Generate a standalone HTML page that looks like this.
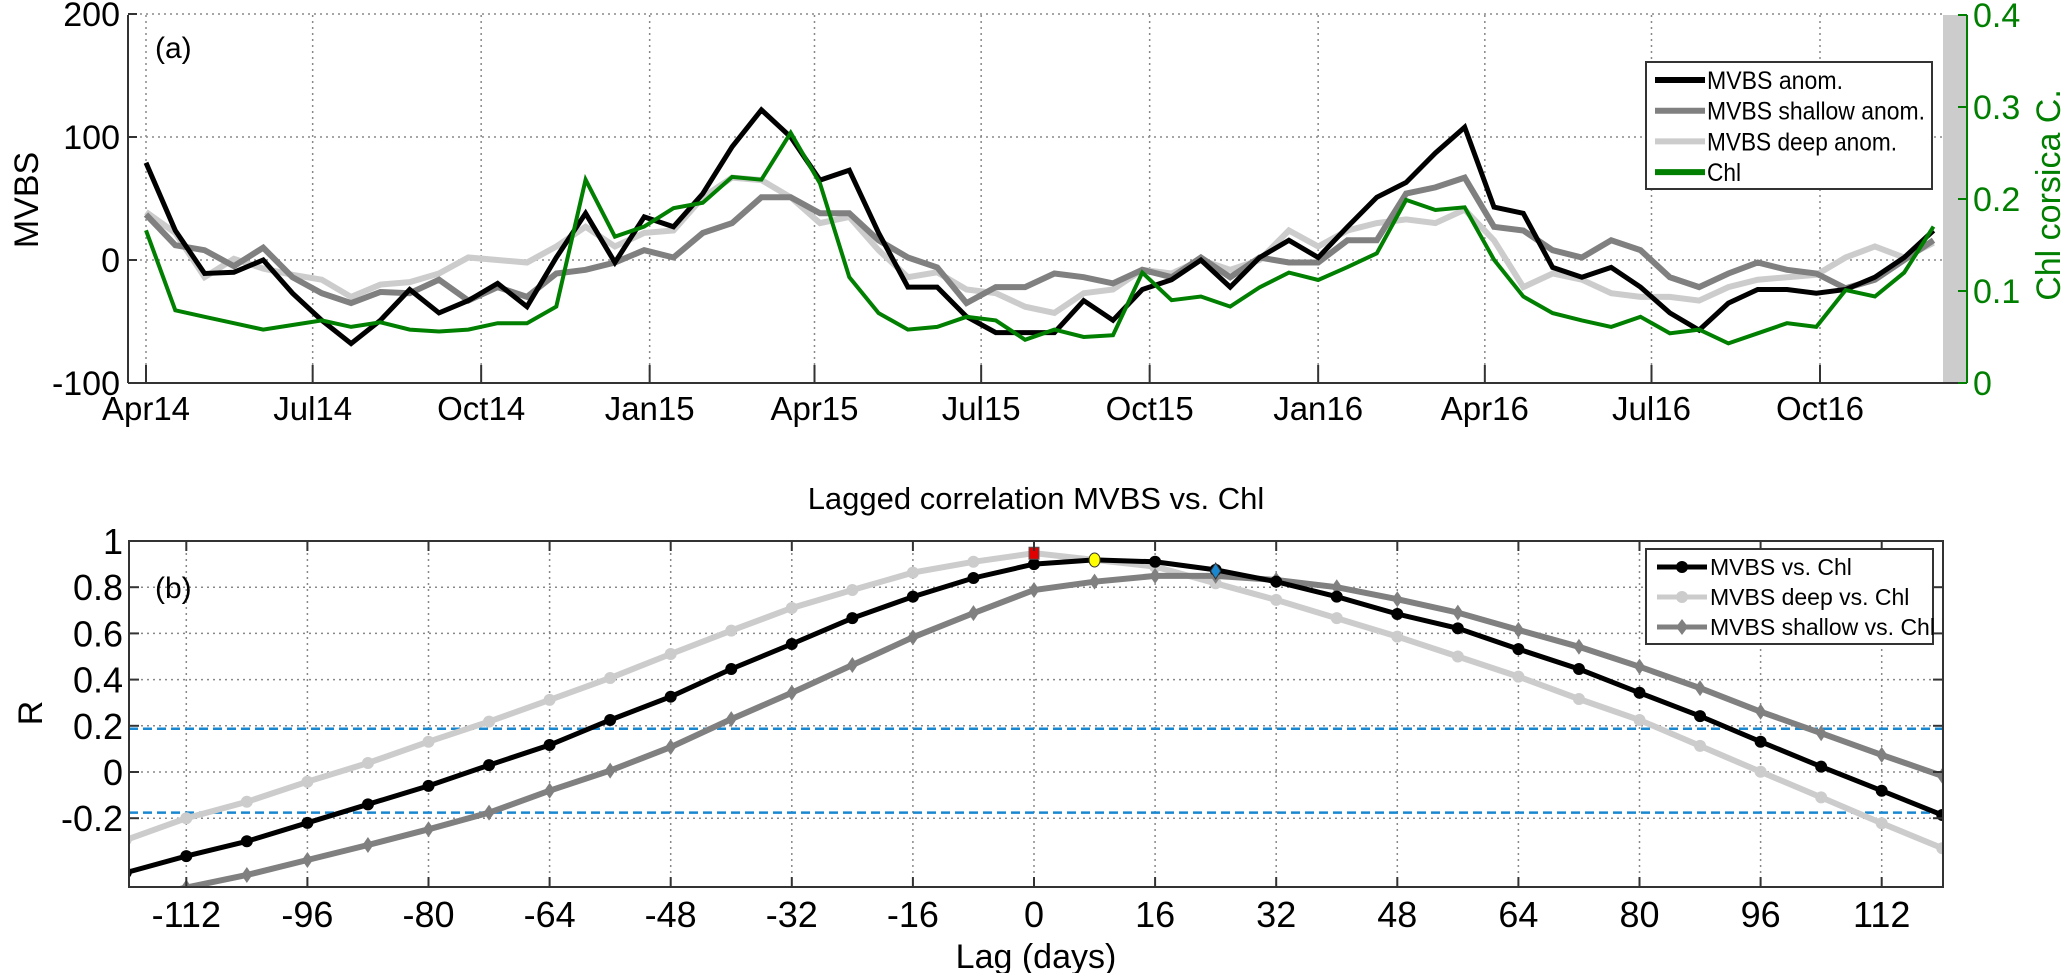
<!DOCTYPE html>
<html><head><meta charset="utf-8">
<style>
html,body{margin:0;padding:0;background:#fff;}
svg{display:block;font-family:"Liberation Sans",Arial,sans-serif;}
</style></head>
<body>
<svg id="chart" width="2067" height="973" viewBox="0 0 2067 973" xmlns="http://www.w3.org/2000/svg">
<g id="panelA"></g>
<g id="panelB"></g>
</svg>
<script>
// ---- Panel (a) data: 16-day steps from 1 Apr 2014 ----
const dayStep = 16;
const dateTickLabels = ["Apr14","Jul14","Oct14","Jan15","Apr15","Jul15","Oct15","Jan16","Apr16","Jul16","Oct16"];
const dateTickDays = [0,91,183,275,365,456,548,640,731,822,914];
const mvbsTicks = [200,100,0,-100];
const chlTicks = [0.4,0.3,0.2,0.1,0];
const mvbsAnom = [79,24,-11,-10,0,-27,-49,-68,-49,-24,-43,-33,-19,-38,2,38,-2,35,27,54,92,122,100,65,73,22,-22,-22,-46,-59,-59,-59,-33,-49,-24,-16,0,-22,2,16,2,27,51,63,87,108,43,38,-6,-14,-6,-22,-43,-57,-35,-24,-24,-27,-24,-14,2,24];
const mvbsShallow = [37,12,8,-5,10,-14,-27,-35,-26,-27,-16,-33,-22,-30,-11,-8,-2,8,2,22,30,51,51,38,38,16,2,-6,-35,-22,-22,-11,-14,-19,-8,-14,2,-14,2,-2,-2,16,16,54,59,67,27,24,8,2,16,8,-14,-22,-11,-2,-8,-11,-23,-16,0,16];
const mvbsDeep = [39,22,-14,1,-7,-12,-16,-30,-20,-18,-11,2,0,-2,11,27,11,22,24,51,67,65,51,30,35,8,-14,-10,-24,-27,-38,-43,-27,-24,-8,-11,0,-8,0,24,11,24,30,33,30,41,16,-22,-11,-16,-27,-30,-30,-33,-22,-16,-14,-12,2,11,2,14];
const chl = [0.166,0.079,0.072,0.065,0.058,0.063,0.068,0.061,0.066,0.058,0.056,0.058,0.065,0.065,0.083,0.221,0.159,0.17,0.19,0.196,0.224,0.221,0.272,0.217,0.115,0.076,0.058,0.061,0.072,0.068,0.047,0.058,0.05,0.052,0.12,0.09,0.094,0.083,0.104,0.12,0.112,0.126,0.141,0.199,0.188,0.191,0.134,0.094,0.076,0.068,0.061,0.072,0.054,0.058,0.043,0.054,0.065,0.061,0.101,0.094,0.12,0.17];

// ---- Panel (b) data: lags -120..120 step 8 ----
const lags = [-120,-112,-104,-96,-88,-80,-72,-64,-56,-48,-40,-32,-24,-16,-8,0,8,16,24,32,40,48,56,64,72,80,88,96,104,112,120];
const rAll = [-0.436,-0.364,-0.30,-0.22,-0.14,-0.06,0.03,0.117,0.225,0.326,0.446,0.554,0.666,0.759,0.84,0.9,0.918,0.91,0.875,0.824,0.759,0.684,0.622,0.532,0.446,0.343,0.242,0.131,0.023,-0.081,-0.186];
const rDeep = [-0.294,-0.2,-0.129,-0.042,0.039,0.131,0.218,0.312,0.407,0.511,0.612,0.71,0.788,0.863,0.91,0.947,0.918,0.889,0.817,0.745,0.666,0.586,0.5,0.413,0.316,0.225,0.113,0.001,-0.11,-0.222,-0.33];
const rShallow = [-0.56,-0.5,-0.446,-0.381,-0.316,-0.248,-0.176,-0.081,0.006,0.108,0.229,0.343,0.463,0.583,0.688,0.788,0.824,0.849,0.849,0.831,0.8,0.748,0.69,0.615,0.542,0.456,0.363,0.261,0.168,0.074,-0.017];
const lagTicks = [-112,-96,-80,-64,-48,-32,-16,0,16,32,48,64,80,96,112];
const rTicks = [1,0.8,0.6,0.4,0.2,0,-0.2];
const sigLevels = [0.187,-0.176];
const peakAll = {lag:0, r:0.947};
const peakDeep = {lag:8, r:0.918};
const peakShallow = {lag:24, r:0.87};

const NS = "http://www.w3.org/2000/svg";
function mk(parent, tag, attrs, text){
  const e = document.createElementNS(NS, tag);
  for (const k in attrs) e.setAttribute(k, attrs[k]);
  if (text !== undefined) e.textContent = text;
  parent.appendChild(e);
  return e;
}
const gA = document.getElementById('panelA');
const gB = document.getElementById('panelB');

// ---------- Panel A ----------
const AL=128, AR=1943, AT=15, AB=383, ARX=1967;
const xA = d => 146 + d*1.8315;
const yM = v => 260 - v*1.23;
const yC = c => 383 - c*920;

mvbsTicks.forEach(t=>{
  if (t===-100) return;
  const g = mk(gA,'line',{x1:AL,x2:AR,y1:yM(t),y2:yM(t),stroke:'#888','stroke-width':1.5,'stroke-dasharray':'2,4'});
  
  
});
dateTickDays.forEach(d=>{
  const g = mk(gA,'line',{x1:xA(d),x2:xA(d),y1:AT,y2:AB,stroke:'#888','stroke-width':1.5,'stroke-dasharray':'2,4'});
  
  
});
const bar = mk(gA,'rect',{x:AR,y:AT,width:ARX-AR,height:AB-AT,fill:'#cccccc'});



function series(parent, vals, yf, color, w, name){
  const pts = vals.map((v,i)=>xA(i*dayStep).toFixed(1)+','+yf(v).toFixed(1)).join(' ');
  const p = mk(parent,'polyline',{points:pts,fill:'none',stroke:color,'stroke-width':w,'stroke-linejoin':'miter'});
  
  
}
series(gA, mvbsDeep, yM, '#cccccc', 6, 'line-mvbs-deep');
series(gA, mvbsShallow, yM, '#808080', 6, 'line-mvbs-shallow');
series(gA, mvbsAnom, yM, '#000000', 5, 'line-mvbs-anom');
series(gA, chl, yC, '#007f00', 4, 'line-chl');

const ax1 = mk(gA,'line',{x1:AL,x2:AL,y1:AT,y2:AB,stroke:'#333','stroke-width':2});


const ax2 = mk(gA,'line',{x1:AL,x2:ARX,y1:AB,y2:AB,stroke:'#333','stroke-width':2});


const ax3 = mk(gA,'line',{x1:ARX,x2:ARX,y1:AT,y2:AB,stroke:'#007f00','stroke-width':2});


mvbsTicks.forEach(t=>{
  mk(gA,'line',{x1:AL,x2:AL+9,y1:yM(t),y2:yM(t),stroke:'#333','stroke-width':2});
  const l = mk(gA,'text',{x:120,y:yM(t)+12,'text-anchor':'end','font-size':34,fill:'#000'},String(t));
  
  
});
dateTickDays.forEach((d,i)=>{
  mk(gA,'line',{x1:xA(d),x2:xA(d),y1:AB,y2:AB-18,stroke:'#333','stroke-width':2});
  const l = mk(gA,'text',{x:xA(d),y:420,'text-anchor':'middle','font-size':33,fill:'#000'},dateTickLabels[i]);
  
  
});
chlTicks.forEach(t=>{
  mk(gA,'line',{x1:ARX,x2:ARX-9,y1:yC(t),y2:yC(t),stroke:'#007f00','stroke-width':2});
  const l = mk(gA,'text',{x:1973,y:yC(t)+12,'text-anchor':'start','font-size':34,fill:'#007f00'},String(t));
  
  
});
const yt = mk(gA,'text',{x:0,y:0,transform:'translate(38,200) rotate(-90)','text-anchor':'middle','font-size':34,fill:'#000'},'MVBS');


const yt2 = mk(gA,'text',{x:0,y:0,transform:'translate(2060,195) rotate(-90)','text-anchor':'middle','font-size':34,fill:'#007f00'},'Chl corsica C.');


const pa = mk(gA,'text',{x:155,y:58,'font-size':30,fill:'#000'},'(a)');



const legA = mk(gA,'g',{});


mk(legA,'rect',{x:1646,y:62,width:286,height:127,fill:'#fff',stroke:'#333','stroke-width':2});
[["MVBS anom.",'#000',136],["MVBS shallow anom.",'#808080',218],["MVBS deep anom.",'#cccccc',190],["Chl",'#007f00',34]].forEach((e,i)=>{
  const y = 80 + i*30.7;
  const g = mk(legA,'g',{});
  
  
  mk(g,'line',{x1:1655,x2:1705,y1:y,y2:y,stroke:e[1],'stroke-width':6});
  mk(g,'text',{x:1707,y:y+9,'font-size':25,fill:'#000',textLength:e[2],lengthAdjust:'spacingAndGlyphs'},e[0]);
});

// ---------- Panel B ----------
const BL=129, BR=1943, BT=541, BB=887;
const xB = l => 1034 + l*(121.1/16);
const yB = r => 772 - r*231;
const title = mk(gB,'text',{x:1036,y:509,'text-anchor':'middle','font-size':31,fill:'#000'},'Lagged correlation MVBS vs. Chl');


rTicks.forEach(t=>{
  if (t===1) return;
  const g = mk(gB,'line',{x1:BL,x2:BR,y1:yB(t),y2:yB(t),stroke:'#888','stroke-width':1.5,'stroke-dasharray':'2,4'});
  
  
});
lagTicks.forEach(t=>{
  const g = mk(gB,'line',{x1:xB(t),x2:xB(t),y1:BT,y2:BB,stroke:'#888','stroke-width':1.5,'stroke-dasharray':'2,4'});
  
  
});
sigLevels.forEach(s=>{
  const g = mk(gB,'line',{x1:BL,x2:BR,y1:yB(s),y2:yB(s),stroke:'#1a88d0','stroke-width':2.5,'stroke-dasharray':'9,5'});
  
  
});
const clip = mk(gB,'clipPath',{id:'cb'});
mk(clip,'rect',{x:BL,y:BT,width:BR-BL,height:BB-BT});
const plotB = mk(gB,'g',{'clip-path':'url(#cb)'});



function lagSeries(vals,color,w,marker,name){
  const g = mk(plotB,'g',{});
  
  
  mk(g,'polyline',{points:vals.map((v,i)=>xB(lags[i]).toFixed(1)+','+yB(v).toFixed(1)).join(' '),fill:'none',stroke:color,'stroke-width':w});
  vals.forEach((v,i)=>{
    const x=xB(lags[i]), y=yB(v);
    let m;
    if (marker==='d') m = mk(g,'polygon',{points:`${x},${y-8} ${x+5.5},${y} ${x},${y+8} ${x-5.5},${y}`,fill:color});
    else m = mk(g,'circle',{cx:x,cy:y,r:6,fill:color});
    
    
  });
}
lagSeries(rDeep,'#cccccc',6,'c','series-mvbs-deep');
lagSeries(rShallow,'#808080',6,'d','series-mvbs-shallow');
lagSeries(rAll,'#000000',5,'c','series-mvbs-all');
const sq = mk(gB,'rect',{x:xB(peakAll.lag)-5,y:yB(peakAll.r)-6,width:10,height:12,fill:'#e00000',stroke:'#555','stroke-width':1});


const yc = mk(gB,'ellipse',{cx:xB(peakDeep.lag),cy:yB(peakDeep.r),rx:5.5,ry:7,fill:'#ffff00',stroke:'#333','stroke-width':1});


const xd=xB(peakShallow.lag), yd=yB(peakShallow.r);
const bd = mk(gB,'polygon',{points:`${xd},${yd-8} ${xd+5},${yd} ${xd},${yd+8} ${xd-5},${yd}`,fill:'#1a88d0',stroke:'#333','stroke-width':1});



const box = mk(gB,'rect',{x:BL,y:BT,width:BR-BL,height:BB-BT,fill:'none',stroke:'#333','stroke-width':2});


rTicks.forEach(t=>{
  mk(gB,'line',{x1:BL,x2:BL+10,y1:yB(t),y2:yB(t),stroke:'#333','stroke-width':2});
  mk(gB,'line',{x1:BR,x2:BR-10,y1:yB(t),y2:yB(t),stroke:'#333','stroke-width':2});
  const l = mk(gB,'text',{x:123,y:yB(t)+13,'text-anchor':'end','font-size':36,fill:'#000'},String(t));
  
  
});
lagTicks.forEach(t=>{
  mk(gB,'line',{x1:xB(t),x2:xB(t),y1:BB,y2:BB-10,stroke:'#333','stroke-width':2});
  mk(gB,'line',{x1:xB(t),x2:xB(t),y1:BT,y2:BT+10,stroke:'#333','stroke-width':2});
  const l = mk(gB,'text',{x:xB(t),y:927,'text-anchor':'middle','font-size':36,fill:'#000'},String(t));
  
  
});
const xt = mk(gB,'text',{x:1036,y:968,'text-anchor':'middle','font-size':34,fill:'#000'},'Lag (days)');


const rt = mk(gB,'text',{x:0,y:0,transform:'translate(42,713) rotate(-90)','text-anchor':'middle','font-size':34,fill:'#000'},'R');


const pb = mk(gB,'text',{x:155,y:598,'font-size':30,fill:'#000'},'(b)');



const legB = mk(gB,'g',{});


mk(legB,'rect',{x:1646,y:549,width:287,height:95,fill:'#fff',stroke:'#333','stroke-width':2});
[["MVBS vs. Chl",'#000','c'],["MVBS deep vs. Chl",'#cccccc','c'],["MVBS shallow vs. Chl",'#808080','d']].forEach((e,i)=>{
  const y = 567 + i*30;
  const g = mk(legB,'g',{});
  
  
  mk(g,'line',{x1:1657,x2:1707,y1:y,y2:y,stroke:e[1],'stroke-width':5});
  if (e[2]==='d') mk(g,'polygon',{points:`1682,${y-8} 1688,${y} 1682,${y+8} 1676,${y}`,fill:e[1]});
  else mk(g,'circle',{cx:1682,cy:y,r:6,fill:e[1]});
  mk(g,'text',{x:1710,y:y+8,'font-size':23,fill:'#000'},e[0]);
});
</script>
</body></html>
